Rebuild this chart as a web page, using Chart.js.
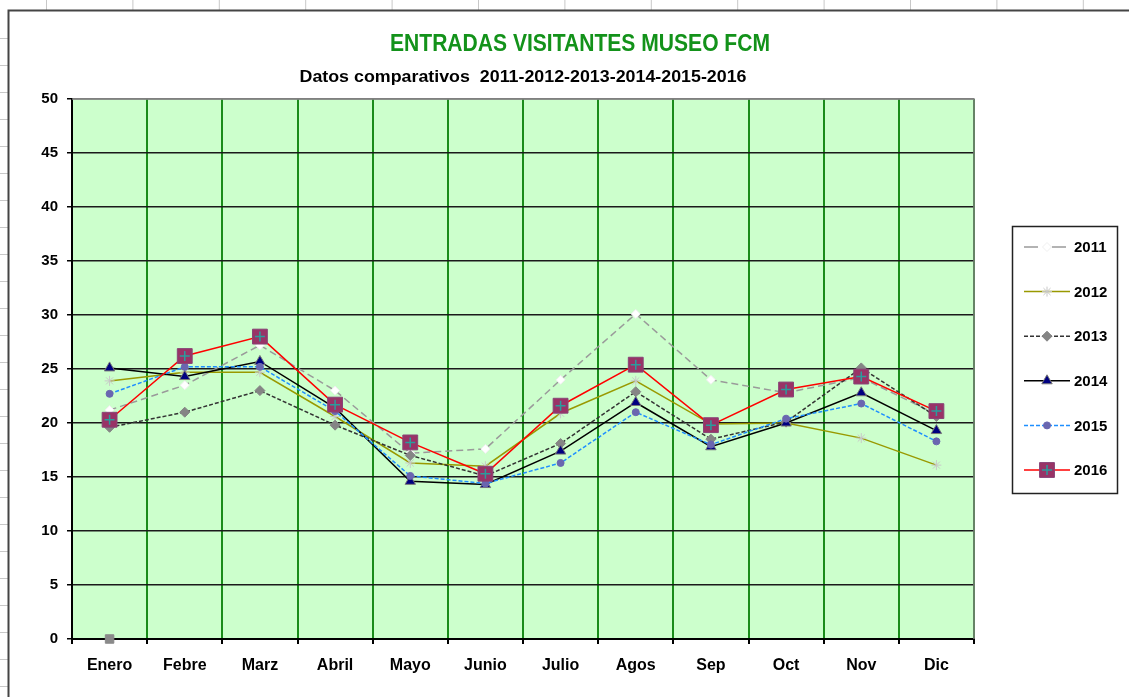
<!DOCTYPE html>
<html lang="es">
<head>
    <meta charset="UTF-8">
    <title>Entradas visitantes museo FCM</title>
    <script src="https://cdn.jsdelivr.net/npm/chart.js"></script>
    <style>
        body, html {
            margin: 0;
            padding: 0;
            background: #fff;
            overflow: hidden;
        }
        #chart {
            display: block;
        }
    </style>
</head>
<body>
<canvas id="chart" width="1129" height="697"></canvas>
<script>
    // datos
    const months = ['Enero', 'Febre', 'Marz', 'Abril', 'Mayo', 'Junio', 'Julio', 'Agos', 'Sep', 'Oct', 'Nov', 'Dic'];
    const v2011 = [21.2, 23.5, 27.2, 23.0, 17.2, 17.6, 24.0, 30.1, 24.0, 22.8, 24.2, 20.8];
    const v2012 = [23.9, 24.7, 24.7, 20.6, 16.3, 16.0, 20.9, 23.9, 19.9, 20.0, 18.6, 16.1];
    const v2013 = [19.6, 21.0, 23.0, 19.8, 17.0, 15.1, 18.1, 22.9, 18.5, 20.1, 25.1, 20.6];
    const v2014 = [25.1, 24.3, 25.7, 21.4, 14.6, 14.3, 17.4, 21.9, 17.8, 20.0, 22.8, 19.3];
    const v2015 = [22.7, 25.2, 25.2, 21.1, 15.1, 14.4, 16.3, 21.0, 18.0, 20.4, 21.8, 18.3];
    const v2016 = [20.3, 26.2, 28.0, 21.7, 18.2, 15.3, 21.6, 25.4, 19.8, 23.1, 24.3, 21.1];
    const v2017 = [0];
    const yTicks = [0, 5, 10, 15, 20, 25, 30, 35, 40, 45, 50];

    const titleText = 'ENTRADAS VISITANTES MUSEO FCM';
    const subtitleText = 'Datos comparativos  2011-2012-2013-2014-2015-2016';

    const datasets = [
        {
            label: '2016', data: v2016, order: 0,
            borderColor: '#ff0000', borderWidth: 1.5,
            pointStyle: 'rect', pointRadius: 10.5,
            pointBackgroundColor: '#993366', pointBorderColor: '#884477', pointBorderWidth: 1
        },
        {
            label: '2015', data: v2015, order: 1,
            borderColor: '#1e8fff', borderWidth: 1.5, borderDash: [4, 2],
            pointStyle: 'circle', pointRadius: 3.5,
            pointBackgroundColor: '#6a66b0', pointBorderColor: '#6a66b0', pointBorderWidth: 1
        },
        {
            label: '2014', data: v2014, order: 2,
            borderColor: '#000000', borderWidth: 1.5,
            pointStyle: 'triangle', pointRadius: 6,
            pointBackgroundColor: '#000080', pointBorderColor: '#777777', pointBorderWidth: 1
        },
        {
            label: '2013', data: v2013, order: 3,
            borderColor: '#333333', borderWidth: 1.5, borderDash: [4, 2],
            pointStyle: 'rectRot', pointRadius: 5,
            pointBackgroundColor: '#858585', pointBorderColor: '#858585', pointBorderWidth: 1
        },
        {
            label: '2012', data: v2012, order: 4,
            borderColor: '#999900', borderWidth: 1.5,
            pointStyle: 'star', pointRadius: 5,
            pointBackgroundColor: '#c8c8c8', pointBorderColor: '#c8c8c8', pointBorderWidth: 1
        },
        {
            label: '2011', data: v2011, order: 5,
            borderColor: '#9a9a9a', borderWidth: 1.5, borderDash: [7, 4],
            pointStyle: 'rectRot', pointRadius: 4.5,
            pointBackgroundColor: '#ffffff', pointBorderColor: '#f0f0f0', pointBorderWidth: 1
        },
        {
            label: '2017', data: v2017, order: 6, showLine: false,
            pointStyle: 'rect', pointRadius: 6,
            pointBackgroundColor: '#8a8a8a', pointBorderColor: '#8a8a8a', pointBorderWidth: 1
        },
        {
            label: '2016+', data: v2016, order: -1, showLine: false,
            pointStyle: 'cross', pointRadius: 5,
            pointBorderColor: '#2a9d9d', pointBorderWidth: 1.5
        }
    ];
    datasets.forEach(d => { d.tension = 0; d.fill = false; d.clip = false; });

    const legendOrder = ['2011', '2012', '2013', '2014', '2015', '2016'];

    // fondo de hoja de calculo, area verde, titulos y leyenda
    const sheetPlugin = {
        id: 'sheet',
        beforeDraw(chart) {
            const ctx = chart.ctx;
            const a = chart.chartArea;
            ctx.save();
            ctx.fillStyle = '#fff';
            ctx.fillRect(0, 0, chart.width, chart.height);
            ctx.strokeStyle = '#c8c8c8';
            ctx.lineWidth = 1;
            for (let x = 46.5; x < chart.width; x += 86.4) {
                ctx.beginPath(); ctx.moveTo(x, 0); ctx.lineTo(x, 10); ctx.stroke();
            }
            for (let y = 38.5; y < chart.height; y += 27) {
                ctx.beginPath(); ctx.moveTo(0, y); ctx.lineTo(8, y); ctx.stroke();
            }
            ctx.strokeStyle = '#444';
            ctx.lineWidth = 2;
            ctx.beginPath();
            ctx.moveTo(chart.width, 10.5); ctx.lineTo(8.5, 10.5); ctx.lineTo(8.5, chart.height);
            ctx.stroke();
            ctx.fillStyle = '#ccffcc';
            ctx.fillRect(a.left, a.top, a.right - a.left, a.bottom - a.top);
            ctx.restore();
        },
        beforeDatasetsDraw(chart) {
            const ctx = chart.ctx;
            const a = chart.chartArea;
            ctx.save();
            ctx.strokeStyle = '#808080';
            ctx.lineWidth = 1.5;
            ctx.beginPath();
            ctx.moveTo(a.left, a.top); ctx.lineTo(a.right, a.top); ctx.lineTo(a.right, a.bottom);
            ctx.stroke();
            ctx.restore();
        },
        afterDraw(chart) {
            const ctx = chart.ctx;
            ctx.save();
            ctx.textBaseline = 'middle';
            ctx.textAlign = 'center';
            fitText(ctx, titleText, 'bold 23px "Liberation Sans", Arial, sans-serif', '#13921a', 580, 45, 380);
            fitText(ctx, subtitleText, 'bold 17px "Liberation Sans", Arial, sans-serif', '#000', 523, 77, 447);

            // leyenda
            ctx.strokeStyle = '#222';
            ctx.lineWidth = 1.5;
            ctx.strokeRect(1012.5, 226.5, 105, 267);
            const drawPoint = Chart.helpers.drawPoint;
            legendOrder.forEach((lab, i) => {
                const ds = chart.data.datasets.find(d => d.label === lab);
                const y = 247 + i * 44.6;
                ctx.save();
                ctx.strokeStyle = ds.borderColor;
                ctx.lineWidth = ds.borderWidth;
                ctx.setLineDash(lab === '2011' ? [14, 14] : (ds.borderDash || []));
                ctx.beginPath(); ctx.moveTo(1024, y); ctx.lineTo(1070, y); ctx.stroke();
                ctx.setLineDash([]);
                ctx.fillStyle = ds.pointBackgroundColor;
                ctx.strokeStyle = ds.pointBorderColor;
                ctx.lineWidth = ds.pointBorderWidth;
                drawPoint(ctx, { pointStyle: ds.pointStyle, radius: ds.pointRadius, rotation: 0, borderWidth: ds.pointBorderWidth }, 1047, y);
                if (lab === '2016') {
                    ctx.strokeStyle = '#2a9d9d';
                    ctx.lineWidth = 1.5;
                    drawPoint(ctx, { pointStyle: 'cross', radius: 5, rotation: 0, borderWidth: 1.5 }, 1047, y);
                }
                ctx.restore();
                ctx.fillStyle = '#000';
                ctx.textAlign = 'left';
                ctx.font = 'bold 15px "Liberation Sans", Arial, sans-serif';
                ctx.fillText(lab, 1074, y + 1);
            });
            ctx.restore();
        }
    };

    function fitText(ctx, text, font, color, cx, cy, width) {
        ctx.font = font;
        ctx.fillStyle = color;
        const w = ctx.measureText(text).width;
        ctx.save();
        ctx.translate(cx, cy);
        ctx.scale(width / w, 1);
        ctx.fillText(text, 0, 0);
        ctx.restore();
    }

    new Chart(document.getElementById('chart'), {
        type: 'line',
        data: { labels: months, datasets: datasets },
        options: {
            responsive: false,
            animation: false,
            devicePixelRatio: 1,
            layout: { padding: { left: 0, top: 99, right: 155, bottom: 0 } },
            plugins: {
                legend: { display: false },
                title: { display: false },
                tooltip: { enabled: false }
            },
            scales: {
                x: {
                    offset: true,
                    afterFit: s => { s.height = 58; },
                    grid: { offset: true, color: '#1a8c1a', lineWidth: 2, tickColor: '#000', tickLength: 5 },
                    border: { color: '#000', width: 2 },
                    ticks: {
                        padding: 12,
                        color: '#000',
                        font: { family: '"Liberation Sans", Arial, sans-serif', size: 16, weight: 'bold' }
                    }
                },
                y: {
                    min: 0,
                    max: 50,
                    afterFit: s => { s.width = 72; },
                    afterBuildTicks: s => { s.ticks = yTicks.map(v => ({ value: v })); },
                    grid: {
                        color: c => c.tick && c.tick.value === 50 ? '#808080' : '#1a1a1a',
                        lineWidth: 1.5, tickColor: '#000', tickLength: 5
                    },
                    border: { color: '#000', width: 2 },
                    ticks: {
                        padding: 9,
                        color: '#000',
                        font: { family: '"Liberation Sans", Arial, sans-serif', size: 15, weight: 'bold' }
                    }
                }
            }
        },
        plugins: [sheetPlugin]
    });
</script>
</body>
</html>
